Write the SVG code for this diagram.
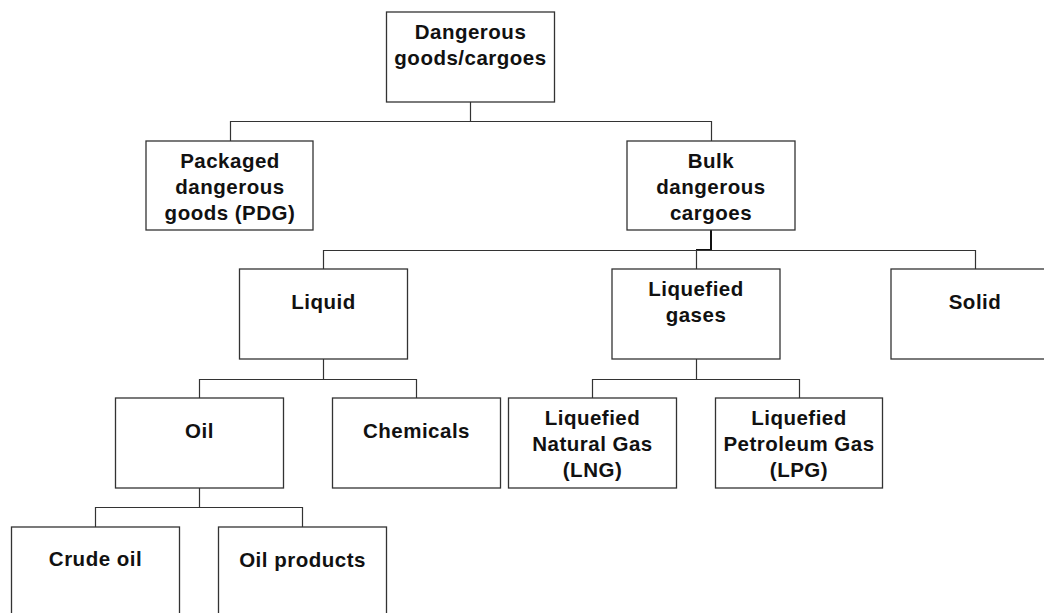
<svg xmlns="http://www.w3.org/2000/svg" width="1044" height="613" viewBox="0 0 1044 613">
<style>
.box{fill:#fff;stroke:#333;stroke-width:1.3}
.lbl{font-family:"Liberation Sans",Arial,sans-serif;font-weight:bold;font-size:20.5px;letter-spacing:0.5px;fill:#111;text-anchor:middle}
.con{fill:none;stroke:#333;stroke-width:1.2}
.thick{fill:none;stroke:#111;stroke-width:2}
</style>
<rect width="1044" height="613" fill="#fff"/>
<g id="connectors">
<path class="con" d="M470.5,101.5 V121.5 M230.5,141 V121.5 H711.5 V141"/>
<path class="thick" d="M711,230 V250 H696"/>
<path class="con" d="M323.5,269 V250.5 H975.5 V269 M696.5,250.5 V269"/>
<path class="con" d="M323.5,359 V379.5 M199.5,398 V379.5 H416.5 V398"/>
<path class="con" d="M696.5,359 V379.5 M592.5,398 V379.5 H799.5 V398"/>
<path class="con" d="M199.5,488 V507.5 M95.5,527 V507.5 H302.5 V527"/>
</g>
<g id="n-root"><rect class="box" x="386.5" y="12" width="168" height="90"/><text class="lbl" x="470.5" y="39">Dangerous</text><text class="lbl" x="470.5" y="65">goods/cargoes</text></g>
<g id="n-pdg"><rect class="box" x="146" y="141" width="167" height="89"/><text class="lbl" x="230" y="168">Packaged</text><text class="lbl" x="230" y="194">dangerous</text><text class="lbl" x="230" y="220">goods (PDG)</text></g>
<g id="n-bulk"><rect class="box" x="627" y="141" width="168" height="89"/><text class="lbl" x="711" y="168">Bulk</text><text class="lbl" x="711" y="194">dangerous</text><text class="lbl" x="711" y="220">cargoes</text></g>
<g id="n-liquid"><rect class="box" x="239.5" y="269" width="168" height="90"/><text class="lbl" x="323.5" y="309">Liquid</text></g>
<g id="n-gases"><rect class="box" x="612" y="269" width="168" height="90"/><text class="lbl" x="696" y="296">Liquefied</text><text class="lbl" x="696" y="322">gases</text></g>
<g id="n-solid"><rect class="box" x="891" y="269" width="168" height="90"/><text class="lbl" x="975" y="309">Solid</text></g>
<g id="n-oil"><rect class="box" x="115.5" y="398" width="168" height="90"/><text class="lbl" x="199.5" y="438">Oil</text></g>
<g id="n-chem"><rect class="box" x="332.5" y="398" width="168" height="90"/><text class="lbl" x="416.5" y="438">Chemicals</text></g>
<g id="n-lng"><rect class="box" x="508.5" y="398" width="168" height="90"/><text class="lbl" x="592.5" y="425">Liquefied</text><text class="lbl" x="592.5" y="451">Natural Gas</text><text class="lbl" x="592.5" y="477">(LNG)</text></g>
<g id="n-lpg"><rect class="box" x="715.5" y="398" width="167" height="90"/><text class="lbl" x="799" y="425">Liquefied</text><text class="lbl" x="799" y="451">Petroleum Gas</text><text class="lbl" x="799" y="477">(LPG)</text></g>
<g id="n-crude"><rect class="box" x="11.5" y="527" width="168" height="100"/><text class="lbl" x="95.5" y="566">Crude oil</text></g>
<g id="n-oilprod"><rect class="box" x="218.5" y="527" width="168" height="100"/><text class="lbl" x="302.5" y="567">Oil products</text></g>
</svg>
